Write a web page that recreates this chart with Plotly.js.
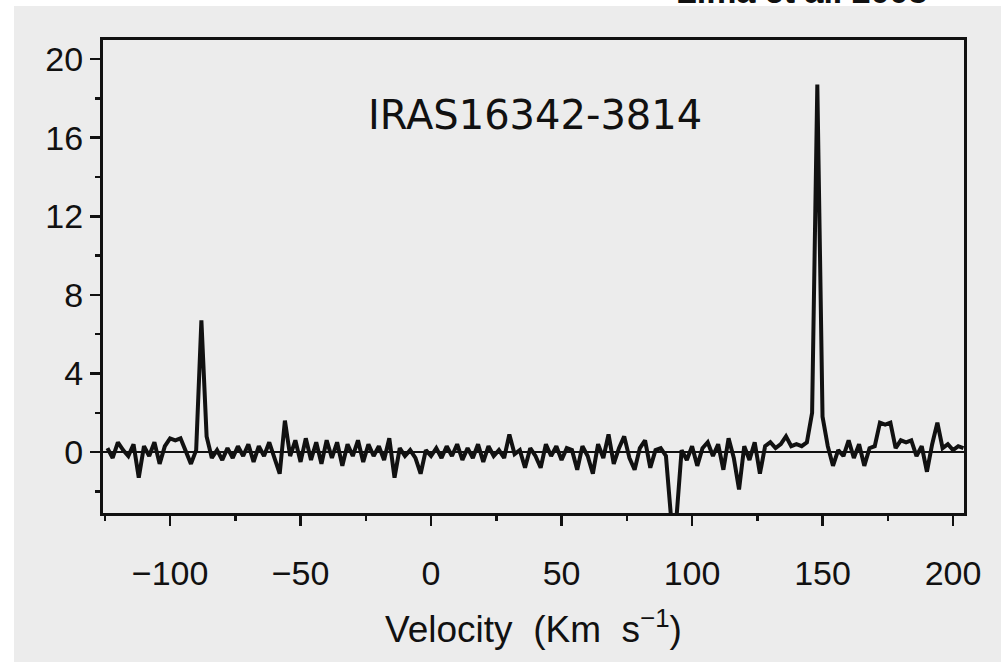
<!DOCTYPE html>
<html>
<head>
<meta charset="utf-8">
<script src="https://cdn.plot.ly/plotly-3.0.1.min.js"></script>
<style>html,body{margin:0;padding:0;background:#fff;}#chart{width:1006px;height:668px;}</style>
</head>
<body>
<div id="chart"></div>
<script>
// Velocity channels (km/s)
const velocity = [
 -124,-122,-120,-118,-116,-114,-112,-110,-108,-106,-104,-102,-100,-98,-96,-94,-92,-90,-88,-86,
 -84,-82,-80,-78,-76,-74,-72,-70,-68,-66,-64,-62,-60,-58,-56,-54,-52,-50,-48,-46,
 -44,-42,-40,-38,-36,-34,-32,-30,-28,-26,-24,-22,-20,-18,-16,-14,-12,-10,-8,-6,
 -4,-2,0,2,4,6,8,10,12,14,16,18,20,22,24,26,28,30,32,34,
 36,38,40,42,44,46,48,50,52,54,56,58,60,62,64,66,68,70,72,74,
 76,78,80,82,84,86,88,90,92,94,96,98,100,102,104,106,108,110,112,114,
 116,118,120,122,124,126,128,130,132,134,136,138,140,142,144,146,148,150,152,154,
 156,158,160,162,164,166,168,170,172,174,176,178,180,182,184,186,188,190,192,194,
 196,198,200,202,204
];
// Flux density (Jy)
const flux = [
 0.2,-0.3,0.5,0.1,-0.2,0.4,-1.3,0.3,-0.2,0.5,-0.6,0.3,0.7,0.6,0.7,0.1,-0.6,0.1,6.7,0.8,
 -0.3,0.1,-0.4,0.2,-0.3,0.3,-0.2,0.4,-0.5,0.3,-0.2,0.5,-0.3,-1.1,1.6,-0.2,0.6,-0.5,0.7,-0.4,
 0.5,-0.6,0.6,-0.3,0.5,-0.7,0.4,-0.2,0.6,-0.5,0.4,-0.2,0.3,-0.4,0.7,-1.3,0.2,-0.2,0.1,-0.3,
 -1.1,0.1,-0.2,0.2,-0.3,0.3,-0.2,0.4,-0.4,0.2,-0.3,0.4,-0.5,0.3,-0.2,0.1,-0.3,0.9,-0.1,0.1,
 -0.8,0.2,-0.2,-0.8,0.4,-0.2,0.3,-0.4,0.2,0.1,-0.9,0.3,-0.2,-1.1,0.4,-0.3,0.9,-0.6,0.2,0.8,
 -0.3,-0.9,0.2,0.6,-0.8,0.1,0.2,-0.2,-3.4,-3.4,0.1,-0.4,0.3,-0.7,0.2,0.5,-0.2,0.4,-0.9,0.7,
 -0.3,-1.9,0.3,-0.4,0.5,-1.1,0.3,0.5,0.2,0.4,0.8,0.3,0.4,0.3,0.5,2.0,18.7,1.8,0.3,-0.7,
 0.1,-0.2,0.6,-0.3,0.4,-0.7,0.2,0.3,1.5,1.4,1.5,0.2,0.6,0.5,0.6,-0.2,0.3,-1.0,0.4,1.5,
 0.2,0.4,0.1,0.3,0.2
];
const xTickVals = [-100,-50,0,50,100,150,200];
const yTickVals = [0,4,8,12,16,20];
const sourceName = "IRAS16342-3814";
const creditText = "Lima et al. 2003";
const xTitle = "Velocity\u00a0\u00a0(Km\u00a0\u00a0s<sup>\u22121</sup>)";

const TICKFONT = "Liberation Sans, Arial, Helvetica, sans-serif";
const LABELFONT = "DejaVu Sans, Liberation Sans, sans-serif";

const trace = {
  x: velocity, y: flux, type: "scatter", mode: "lines",
  line: {color: "#111", width: 4, shape: "linear"},
  hoverinfo: "skip", showlegend: false
};

const layout = {
  width: 1006, height: 668,
  margin: {l: 103, r: 42, t: 40, b: 155, pad: 0},
  paper_bgcolor: "#ffffff",
  plot_bgcolor: "rgba(0,0,0,0)",
  font: {family: TICKFONT, color: "#111", size: 34},
  xaxis: {
    range: [-125.7, 204.2], tickvals: xTickVals,
    ticks: "outside", ticklen: 10, tickwidth: 2.5, tickcolor: "#111",
    minor: {dtick: 25, tick0: 0, ticks: "outside", ticklen: 5, tickwidth: 2.5, tickcolor: "#111"},
    showline: true, linecolor: "#111", linewidth: 3, mirror: true,
    showgrid: false, zeroline: false,
    ticklabelstandoff: 18,
    tickfont: {family: TICKFONT, size: 34, color: "#111"},
    title: {text: xTitle, font: {family: TICKFONT, size: 37, color: "#111"}, standoff: 26}
  },
  yaxis: {
    range: [-3.1, 20.97], tickvals: yTickVals,
    ticks: "outside", ticklen: 10, tickwidth: 2.5, tickcolor: "#111",
    minor: {dtick: 2, tick0: 0, ticks: "outside", ticklen: 5, tickwidth: 2.5, tickcolor: "#111"},
    showline: true, linecolor: "#111", linewidth: 3, mirror: true,
    showgrid: false, zeroline: true, zerolinecolor: "#111", zerolinewidth: 2.5,
    tickfont: {family: TICKFONT, size: 34, color: "#111"}
  },
  shapes: [
    {type: "rect", xref: "paper", yref: "paper", x0: -0.1034, x1: 1.043, y0: -0.315, y1: 1.0719,
     fillcolor: "#ececec", line: {width: 0}, layer: "below"}
  ],
  annotations: [
    {text: sourceName, xref: "paper", yref: "paper", x: 0.502, y: 0.842,
     xanchor: "center", yanchor: "middle", showarrow: false,
     font: {family: LABELFONT, size: 40, color: "#111"}},
    {text: "<b>" + creditText + "</b>", xref: "paper", yref: "paper", x: 0.811, y: 1,
     xanchor: "center", yanchor: "middle", yshift: 49, showarrow: false,
     font: {family: TICKFONT, size: 34, color: "#111"}}
  ]
};

Plotly.newPlot("chart", [trace], layout, {staticPlot: true, displayModeBar: false});
</script>
</body>
</html>
